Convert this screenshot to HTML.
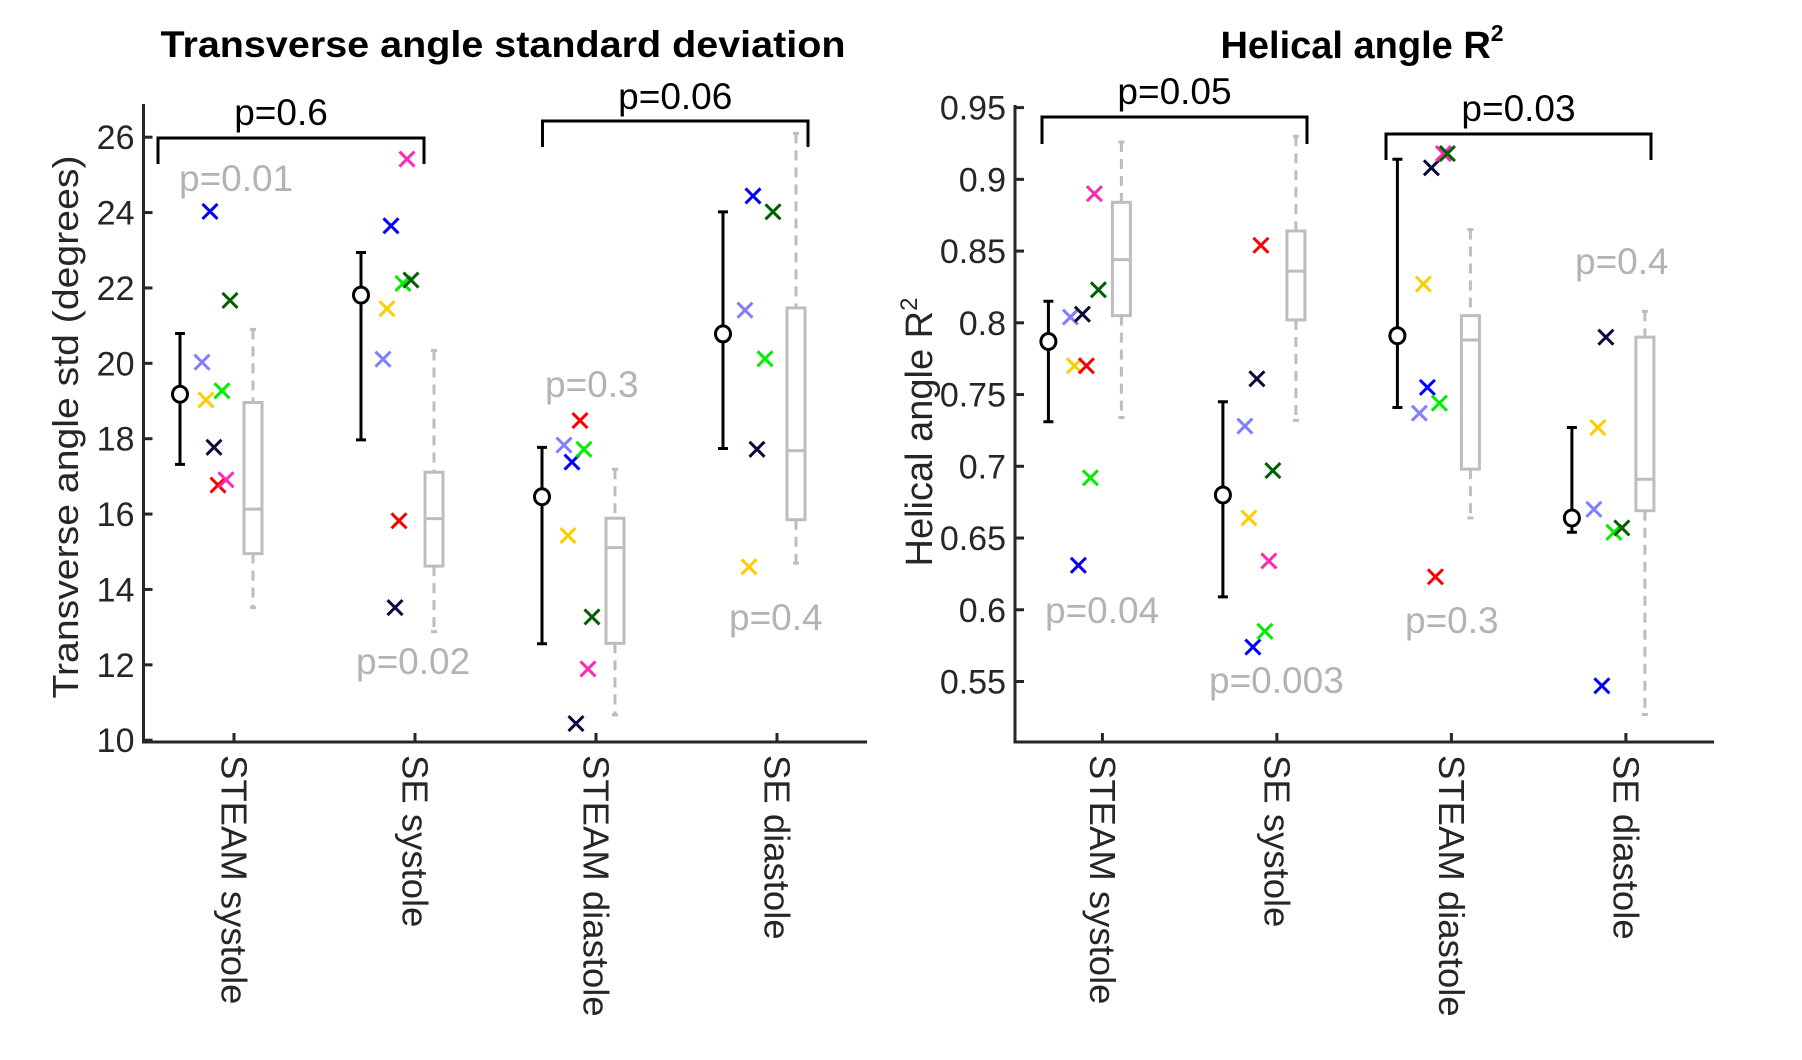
<!DOCTYPE html>
<html><head><meta charset="utf-8">
<style>
html,body{margin:0;padding:0;background:#fff;}
svg{display:block;font-family:"Liberation Sans",Arial,sans-serif;}
</style></head>
<body>
<svg id="fig" width="1802" height="1060" viewBox="0 0 1802 1060" xmlns="http://www.w3.org/2000/svg">
<rect width="1802" height="1060" fill="#fff"/>
<g id="left"></g>
<g id="right"></g>
</svg>
<script>
// ---- shared ----
const categories = ["STEAM systole","SE systole","STEAM diastole","SE diastole"];
const subjects = ["lightblue","yellow","blue","navy","red","green","magenta","darkgreen"];
const subjectColors = ["#8080ff","#ffcc00","#0000ff","#0a0a3a","#ff0000","#00ee00","#ff2ab0","#006000"];

// ---- left chart data: transverse angle std (degrees) ----
const tMean = [19.18, 21.81, 16.46, 20.78];
const tErrHi = [20.79, 22.94, 17.77, 24.02];
const tErrLo = [17.32, 17.97, 12.56, 17.74];
// per subject, per category (null = missing)
const tPoints = [
  [20.03, 20.11, 17.83, 21.41],
  [19.03, 21.45, 15.43, 14.60],
  [24.03, 23.65, 17.38, 24.44],
  [17.77, 13.52, 10.44, 17.72],
  [16.77, 15.82, 18.48, null],
  [19.27, 22.12, 17.72, 20.12],
  [16.91, 25.42, 11.89, null],
  [21.67, 22.21, 13.27, 24.02]
];
const tBoxQ3 = [18.96, 17.11, 15.89, 21.47];
const tBoxMed = [16.13, 15.88, 15.11, 17.68];
const tBoxQ1 = [14.95, 14.62, 12.57, 15.85];
const tWhiskHi = [20.90, 20.34, 17.19, 26.10];
const tWhiskLo = [13.52, 12.88, 10.67, 14.70];
const tTicks = [10,12,14,16,18,20,22,24,26];
const tTickLabels = ["10","12","14","16","18","20","22","24","26"];
const tGrayP = ["p=0.01","p=0.02","p=0.3","p=0.4"];
const tPairP = ["p=0.6","p=0.06"];

// ---- right chart data: helical angle R^2 ----
const hMean = [0.787, 0.680, 0.791, 0.664];
const hErrHi = [0.815, 0.745, 0.914, 0.727];
const hErrLo = [0.731, 0.609, 0.741, 0.654];
const hPoints = [
  [0.804, 0.728, 0.737, 0.670],
  [0.770, 0.664, 0.827, 0.727],
  [0.631, 0.574, 0.755, 0.547],
  [0.806, 0.761, 0.908, 0.790],
  [0.770, 0.854, 0.623, null],
  [0.692, 0.585, 0.744, 0.654],
  [0.890, 0.634, 0.918, null],
  [0.823, 0.697, 0.918, 0.657]
];
const hBoxQ3 = [0.884, 0.864, 0.805, 0.790];
const hBoxMed = [0.844, 0.836, 0.788, 0.691];
const hBoxQ1 = [0.805, 0.802, 0.698, 0.669];
const hWhiskHi = [0.926, 0.930, 0.865, 0.808];
const hWhiskLo = [0.734, 0.732, 0.664, 0.527];
const hTicks = [0.55,0.6,0.65,0.7,0.75,0.8,0.85,0.9,0.95];
const hTickLabels = ["0.55","0.6","0.65","0.7","0.75","0.8","0.85","0.9","0.95"];
const hGrayP = ["p=0.04","p=0.003","p=0.3","p=0.4"];
const hPairP = ["p=0.05","p=0.03"];

const NS = "http://www.w3.org/2000/svg";
function mk(parent, tag, attrs, text){
  const e = document.createElementNS(NS, tag);
  for (const k in attrs) e.setAttribute(k, attrs[k]);
  if (text !== undefined) e.textContent = text;
  parent.appendChild(e);
  return e;
}

function drawChart(g, cfg){
  const yS = v => cfg.y0px + (v - cfg.y0) * (cfg.y1px - cfg.y0px) / (cfg.y1 - cfg.y0);
  const xS = i => cfg.x0 + cfg.step * i;
  const axisCol = "#262626";
  const ax = mk(g, "path", {d:`M${cfg.axL},${cfg.axTop} L${cfg.axL},${cfg.axBot} L${cfg.axR},${cfg.axBot}`, fill:"none", stroke:axisCol, "stroke-width":3});
  
  
  cfg.ticks.forEach((t,k)=>{
    const y = yS(t);
    const tl = mk(g, "line", {x1:cfg.axL, x2:cfg.axL+9, y1:y, y2:y, stroke:axisCol, "stroke-width":3});
    
    
    const tx = mk(g, "text", {x:cfg.axL-9, y:y+12, "text-anchor":"end", "font-size":34, fill:axisCol}, cfg.tickLabels[k]);
    
    
  });
  categories.forEach((c,i)=>{
    const x = xS(i);
    const tl = mk(g, "line", {x1:x, x2:x, y1:cfg.axBot, y2:cfg.axBot-9, stroke:axisCol, "stroke-width":3});
    
    
    const tx = mk(g, "text", {x:0, y:0, transform:`translate(${x},${cfg.axBot+13}) rotate(90)`, "font-size":36.5, fill:axisCol, "dominant-baseline":"central"}, c);
    
    
  });
  const gray = "#bdbdbd";
  categories.forEach((c,i)=>{
    const bx = xS(i) + 19, hw = 9;
    const wh = mk(g, "line", {x1:bx, x2:bx, y1:yS(cfg.whiskHi[i]), y2:yS(cfg.boxQ3[i]), stroke:gray, "stroke-width":3, "stroke-dasharray":"10,7"});
    
    
    const wl = mk(g, "line", {x1:bx, x2:bx, y1:yS(cfg.boxQ1[i]), y2:yS(cfg.whiskLo[i]), stroke:gray, "stroke-width":3, "stroke-dasharray":"10,7"});
    
    
    [cfg.whiskHi[i], cfg.whiskLo[i]].forEach(v=>{
      const cap = mk(g, "line", {x1:bx-3, x2:bx+3, y1:yS(v), y2:yS(v), stroke:gray, "stroke-width":3});
      
      
    });
    const r = mk(g, "rect", {x:bx-hw, y:yS(cfg.boxQ3[i]), width:hw*2, height:yS(cfg.boxQ1[i])-yS(cfg.boxQ3[i]), fill:"none", stroke:gray, "stroke-width":3});
    
    
    const m = mk(g, "line", {x1:bx-hw, x2:bx+hw, y1:yS(cfg.boxMed[i]), y2:yS(cfg.boxMed[i]), stroke:gray, "stroke-width":3});
    
    
  });
  categories.forEach((c,i)=>{
    const mx = xS(i) - 54;
    const eb = mk(g, "path", {d:`M${mx},${yS(cfg.errHi[i])} L${mx},${yS(cfg.errLo[i])} M${mx-5},${yS(cfg.errHi[i])} L${mx+5},${yS(cfg.errHi[i])} M${mx-5},${yS(cfg.errLo[i])} L${mx+5},${yS(cfg.errLo[i])}`, stroke:"#000", "stroke-width":3, fill:"none"});
    
    
    const ci = mk(g, "ellipse", {cx:mx, cy:yS(cfg.mean[i]), rx:7.5, ry:8, fill:"#fff", stroke:"#000", "stroke-width":3});
    
    
  });
  subjects.forEach((s,si)=>{
    categories.forEach((c,i)=>{
      const v = cfg.points[si][i];
      if (v === null) return;
      const px = xS(i) - 32 + si*4, py = yS(v), h = 7.5;
      const cr = mk(g, "path", {d:`M${px-h},${py-h} L${px+h},${py+h} M${px-h},${py+h} L${px+h},${py-h}`, stroke:subjectColors[si], "stroke-width":3, fill:"none"});
      
      
    });
  });
  cfg.grayP.forEach((t,i)=>{
    const tx = mk(g, "text", {x:cfg.grayPos[i][0], y:cfg.grayPos[i][1], "font-size":37, fill:"#b3b3b3"}, t);
    
    
  });
  cfg.brackets.forEach((b,k)=>{
    const p = mk(g, "path", {d:`M${b[0]},${b[3]} L${b[0]},${b[2]} L${b[1]},${b[2]} L${b[1]},${b[3]}`, fill:"none", stroke:"#000", "stroke-width":3});
    
    
    const tx = mk(g, "text", {x:(b[0]+b[1])/2 + b[5], y:b[4], "text-anchor":"middle", "font-size":37, fill:"#000"}, cfg.pairP[k]);
    
    
  });
}

drawChart(document.getElementById('left'), {
  y0:10, y1:26, y0px:740.2, y1px:137.2,
  x0:234, step:181, axL:143.5, axR:867, axTop:104, axBot:742,
  ticks:tTicks, tickLabels:tTickLabels,
  mean:tMean, errHi:tErrHi, errLo:tErrLo, points:tPoints,
  boxQ3:tBoxQ3, boxMed:tBoxMed, boxQ1:tBoxQ1, whiskHi:tWhiskHi, whiskLo:tWhiskLo,
  grayP:tGrayP, grayPos:[[179,191],[356,674],[545,397],[729,630]],
  pairP:tPairP, brackets:[[158,424,138,164,125,-10],[542.5,808,121,147,109,0]]
});
drawChart(document.getElementById('right'), {
  y0:0.55, y1:0.95, y0px:681.5, y1px:107.6,
  x0:1102.4, step:174.5, axL:1015, axR:1714, axTop:105, axBot:742,
  ticks:hTicks, tickLabels:hTickLabels,
  mean:hMean, errHi:hErrHi, errLo:hErrLo, points:hPoints,
  boxQ3:hBoxQ3, boxMed:hBoxMed, boxQ1:hBoxQ1, whiskHi:hWhiskHi, whiskLo:hWhiskLo,
  grayP:hGrayP, grayPos:[[1045,623],[1209,693],[1405,633],[1575,274]],
  pairP:hPairP, brackets:[[1042,1307,117,144,104,0],[1386,1651,134,160,121,0]]
});
</script>
<svg style="position:absolute;left:0;top:0" width="1802" height="1060">
<text x="503" y="57" text-anchor="middle" font-family="Liberation Sans, sans-serif" font-weight="bold" font-size="37" textLength="685" lengthAdjust="spacingAndGlyphs">Transverse angle standard deviation</text>
<text x="1362" y="58" text-anchor="middle" font-family="Liberation Sans, sans-serif" font-weight="bold" font-size="38">Helical angle R<tspan font-size="23" dy="-17">2</tspan></text>
<text transform="translate(78,427) rotate(-90)" text-anchor="middle" font-family="Liberation Sans, sans-serif" font-size="36" fill="#262626" textLength="543" lengthAdjust="spacingAndGlyphs">Transverse angle std (degrees)</text>
<text transform="translate(932,432) rotate(-90)" text-anchor="middle" font-family="Liberation Sans, sans-serif" font-size="38" fill="#262626">Helical angle R<tspan font-size="24" dy="-15">2</tspan></text>
</svg>
</body></html>
